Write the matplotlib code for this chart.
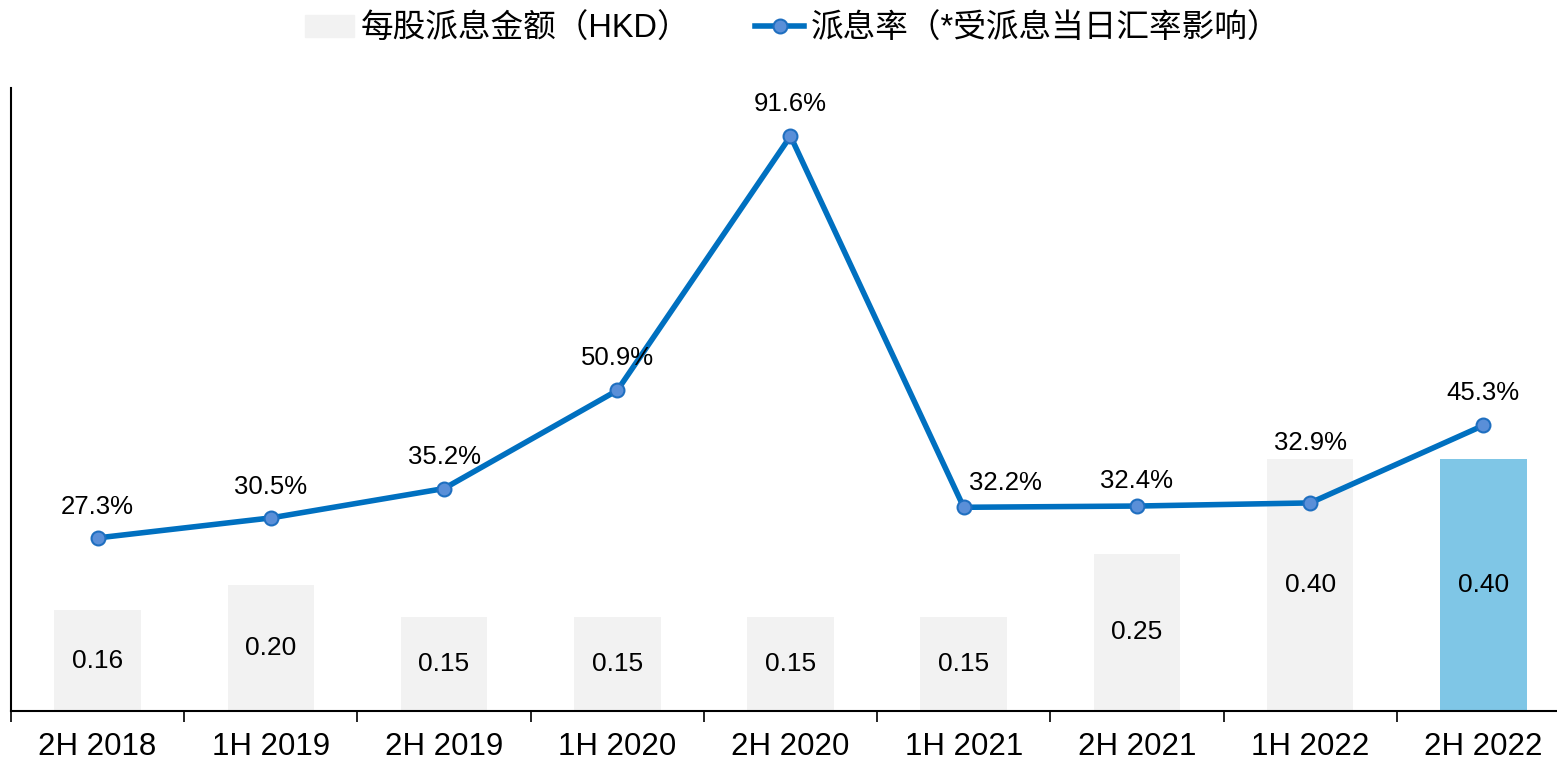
import numpy as np
import matplotlib.pyplot as plt

plt.rcParams['font.family'] = ['Liberation Sans', 'Noto Sans CJK SC', 'DejaVu Sans']

# data
periods = ["2H 2018", "1H 2019", "2H 2019", "1H 2020", "2H 2020",
           "1H 2021", "2H 2021", "1H 2022", "2H 2022"]
dps = [0.16, 0.20, 0.15, 0.15, 0.15, 0.15, 0.25, 0.40, 0.40]
payout = [27.3, 30.5, 35.2, 50.9, 91.6, 32.2, 32.4, 32.9, 45.3]

bar_name = "每股派息金额（HKD）"
line_name = "派息率（*受派息当日汇率影响）"

# label offsets for the payout labels (points)
lbl_dx = [0, 0, 0, 0, 0, 30, 0, 0, 0]
lbl_dy = [22.5, 22.5, 23, 23.5, 23, 17.5, 18, 43, 23]

bar_colors = ["#F2F2F2"] * (len(periods) - 1) + ["#7FC6E6"]

fig = plt.figure(figsize=(15.57, 7.61), dpi=100)
ax = fig.add_axes([11 / 1557, 50 / 761, 1559 / 1557, 623 / 761])
x = np.arange(len(periods))

bars = ax.bar(x, dps, width=0.5, color=bar_colors, zorder=1)
ax.set_ylim(0, 0.99)
ax.set_xlim(-0.5, len(periods) - 0.5)
for xi, v in zip(x, dps):
    ax.text(xi, v / 2, f"{v:.2f}", ha="center", va="center", fontsize=19)

ax2 = ax.twinx()
ax2.set_ylim(-0.4, 99.3)
line, = ax2.plot(x, payout, color="#0070C0", lw=4, marker="o", ms=10,
                 mfc="#5A8FD8", mec="#1F6FC0", mew=1.5, zorder=3)
for xi, v, dx, dy in zip(x, payout, lbl_dx, lbl_dy):
    ax2.annotate(f"{v:.1f}%", (xi, v), xytext=(dx, dy), textcoords="offset points",
                 ha="center", va="center", fontsize=18.5)

for a in (ax, ax2):
    for s in ("top", "right"):
        a.spines[s].set_visible(False)
    a.set_yticks([])
ax2.spines["left"].set_visible(False)
ax2.spines["bottom"].set_visible(False)
ax.spines["left"].set_linewidth(1.5)
ax.spines["bottom"].set_linewidth(1.5)

ax.set_xticks(x)
ax.set_xticklabels(periods, fontsize=22.5)
ax.tick_params(axis="x", which="major", length=0, pad=15)
ax.set_xticks(np.arange(-0.5, len(periods), 1), minor=True)
ax.tick_params(axis="x", which="minor", length=8, width=1.2, direction="out")

handles = [plt.Rectangle((0, 0), 1, 1, color="#F2F2F2"), line]
fig.legend(handles, [bar_name, line_name], loc="center", bbox_to_anchor=(0.509, 0.962),
           ncol=2, frameon=False, fontsize=23.5, handlelength=1.5, columnspacing=2.0,
           handletextpad=0.2)

fig.savefig("out.png", dpi=100)
